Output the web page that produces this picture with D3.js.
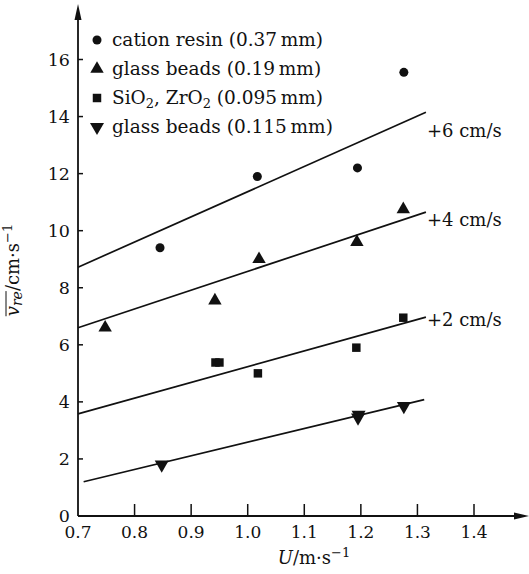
<!DOCTYPE html>
<html>
<head>
<meta charset="utf-8">
<script src="https://cdn.jsdelivr.net/npm/d3@7"></script>
<style>
  body { margin: 0; background: #fff; }
  svg { display: block; }
  text { font-family: "DejaVu Serif", "Liberation Serif", serif; fill: #111; }
</style>
</head>
<body>
<svg id="chart" width="529" height="574"></svg>
<script>
// series points (U in m/s, v_re in cm/s)
const resinU = [0.845, 1.017, 1.194, 1.276];
const resinV = [9.4, 11.9, 12.2, 15.55];
const beads19U = [0.748, 0.942, 1.02, 1.193, 1.275];
const beads19V = [6.6, 7.55, 9.0, 9.6, 10.75];
const oxideU = [0.943, 0.95, 1.018, 1.192, 1.275];
const oxideV = [5.38, 5.38, 5.0, 5.9, 6.95];
const beads115U = [0.848, 1.195, 1.196, 1.276];
const beads115V = [1.8, 3.45, 3.55, 3.85];

// fitted lines: [u0, v0, u1, v1]
const fitLines = [
  [0.70, 8.72, 1.315, 14.15],
  [0.70, 6.6, 1.315, 10.65],
  [0.70, 3.58, 1.315, 6.97],
  [0.71, 1.2, 1.312, 4.08]
];
const lineLabels = ["+6 cm/s", "+4 cm/s", "+2 cm/s"];
const lineLabelV = [13.5, 10.36, 6.86];

const xTicks = [0.7, 0.8, 0.9, 1.0, 1.1, 1.2, 1.3, 1.4];
const yTicks = [0, 2, 4, 6, 8, 10, 12, 14, 16];
const legendNames = [
  "cation resin (0.37\u2009mm)",
  "glass beads (0.19\u2009mm)",
  null, // SiO2, ZrO2 drawn with subscripts
  "glass beads (0.115\u2009mm)"
];

const svg = d3.select("#chart");
const x = d3.scaleLinear().domain([0.7, 1.4]).range([78, 474]);
const y = d3.scaleLinear().domain([0, 16]).range([516, 59.5]);

// axes lines with arrows
svg.append("line").attr("x1", x(0.7)).attr("x2", 522).attr("y1", y(0)).attr("y2", y(0))
  .attr("stroke", "#111").attr("stroke-width", 1.8);
svg.append("path").attr("d", `M529,${y(0)} L514,${y(0) - 3.5} L514,${y(0) + 3.5} Z`).attr("fill", "#111");
svg.append("line").attr("x1", x(0.7)).attr("x2", x(0.7)).attr("y1", y(0)).attr("y2", 12)
  .attr("stroke", "#111").attr("stroke-width", 1.8);
svg.append("path").attr("d", `M${x(0.7)},4 L${x(0.7) - 3.5},20 L${x(0.7) + 3.5},20 Z`).attr("fill", "#111");

// ticks (inside)
svg.append("g").selectAll("line").data(xTicks.slice(1)).join("line")
  .attr("x1", d => x(d)).attr("x2", d => x(d))
  .attr("y1", y(0)).attr("y2", y(0) - 12)
  .attr("stroke", "#111").attr("stroke-width", 1.5);
svg.append("g").selectAll("line").data(yTicks.slice(1)).join("line")
  .attr("x1", x(0.7)).attr("x2", x(0.7) + 5)
  .attr("y1", d => y(d)).attr("y2", d => y(d))
  .attr("stroke", "#111").attr("stroke-width", 1.5);

// tick labels
svg.append("g").selectAll("text").data(xTicks).join("text")
  .attr("x", d => x(d)).attr("y", 538)
  .attr("text-anchor", "middle").attr("font-size", 17)
  .text(d => d.toFixed(1));
svg.append("g").selectAll("text").data(yTicks).join("text")
  .attr("x", 70).attr("y", d => y(d) + 6)
  .attr("text-anchor", "end").attr("font-size", 17.5)
  .text(d => d);

// axis titles
const xt = svg.append("text").attr("x", 314).attr("y", 564).attr("text-anchor", "middle").attr("font-size", 18);
xt.append("tspan").attr("font-style", "italic").text("U");
xt.append("tspan").text("/m\u00b7s");
xt.append("tspan").attr("dy", -7).attr("font-size", 13).text("\u22121");

const yt = svg.append("text").attr("transform", "translate(19,270) rotate(-90)")
  .attr("text-anchor", "middle").attr("font-size", 18);
yt.append("tspan").attr("font-style", "italic").text("v");
yt.append("tspan").attr("font-style", "italic").attr("font-size", 14).attr("dy", 3).text("re");
yt.append("tspan").attr("dy", -3).text("/cm\u00b7s");
yt.append("tspan").attr("dy", -7).attr("font-size", 13).text("\u22121");
// overline over v_re (measured from the rendered glyphs)
{
  const ch = yt.node().getSubStringLength ? yt.node() : null;
  if (ch) {
    const n = 3; // "v" + "re"
    const start = ch.getStartPositionOfChar(0);
    const end = ch.getEndPositionOfChar(n - 1);
    svg.append("line")
      .attr("transform", "translate(19,270) rotate(-90)")
      .attr("x1", start.x).attr("x2", end.x)
      .attr("y1", -13).attr("y2", -13)
      .attr("stroke", "#111").attr("stroke-width", 1);
  }
}

// fit lines
svg.append("g").selectAll("line").data(fitLines).join("line")
  .attr("x1", d => x(d[0])).attr("y1", d => y(d[1]))
  .attr("x2", d => x(d[2])).attr("y2", d => y(d[3]))
  .attr("stroke", "#111").attr("stroke-width", 1.7);

svg.append("g").selectAll("text").data(lineLabels).join("text")
  .attr("x", 427).attr("y", (d, i) => y(lineLabelV[i]) + 6)
  .attr("font-size", 18)
  .text(d => d);

// markers
const sym = {
  circle: d3.symbol().type(d3.symbolCircle).size(64),
  tri: d3.symbol().type(d3.symbolTriangle).size(78),
  square: d3.symbol().type(d3.symbolSquare).size(72),
  down: d3.symbol().type(d3.symbolTriangle).size(85)
};
const series = [
  { u: resinU, v: resinV, s: sym.circle, rot: 0 },
  { u: beads19U, v: beads19V, s: sym.tri, rot: 0 },
  { u: oxideU, v: oxideV, s: sym.square, rot: 0 },
  { u: beads115U, v: beads115V, s: sym.down, rot: 180 }
];
series.forEach(sr => {
  svg.append("g").selectAll("path").data(sr.u).join("path")
    .attr("d", sr.s())
    .attr("transform", (d, i) => `translate(${x(d)},${y(sr.v[i])}) rotate(${sr.rot})`)
    .attr("fill", "#111");
});

// legend
const legY = [40, 69, 98, 127];
const leg = svg.append("g");
series.forEach((sr, i) => {
  leg.append("path").attr("d", sr.s())
    .attr("transform", `translate(97,${legY[i]}) rotate(${sr.rot})`)
    .attr("fill", "#111");
  const t = leg.append("text").attr("x", 112).attr("y", legY[i] + 6).attr("font-size", 18.5);
  if (legendNames[i]) {
    t.text(legendNames[i]);
  } else {
    t.append("tspan").text("SiO");
    t.append("tspan").attr("font-size", 13).attr("dy", 4).text("2");
    t.append("tspan").attr("dy", -4).text(", ZrO");
    t.append("tspan").attr("font-size", 13).attr("dy", 4).text("2");
    t.append("tspan").attr("dy", -4).text(" (0.095\u2009mm)");
  }
});
</script>
</body>
</html>
